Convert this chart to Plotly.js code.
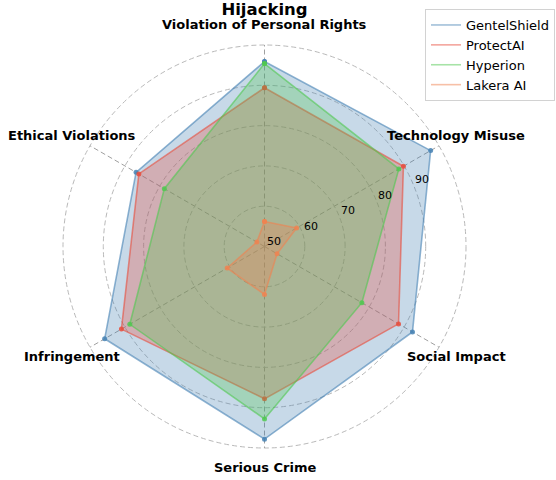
<!DOCTYPE html>
<html>
<head>
<meta charset="utf-8">
<script src="https://cdn.plot.ly/plotly-3.0.1.min.js"></script>
<style>html,body{margin:0;padding:0;background:#fff;}#chart{width:556px;height:480px;}</style>
</head>
<body>
<div id="chart"></div>
<script>
const categories = ["Violation of Personal Rights", "Technology Misuse", "Social Impact", "Serious Crime", "Infringement", "Ethical Violations"];
const seriesNames = ["GentelShield", "ProtectAI", "Hyperion", "Lakera AI"];
const gentelShield = [95.9, 97.6, 92.4, 97.8, 95.8, 86.8];
const protectAI = [89.4, 89.8, 88.4, 87.8, 91.0, 86.0];
const hyperion = [95.4, 88.5, 77.9, 92.8, 88.6, 78.7];
const lakeraAI = [56.2, 59.2, 53.6, 61.9, 60.7, 52.2];
const radialTicks = [50, 60, 70, 80, 90, 100];
const radialTickLabels = ["50", "60", "70", "80", "90"];

const seriesValues = [gentelShield, protectAI, hyperion, lakeraAI];
const baseColors = [[70,130,180],[231,76,60],[80,200,80],[240,130,80]];
const rgba = (c, a) => `rgba(${c[0]},${c[1]},${c[2]},${a})`;
const FONT = "DejaVu Sans";
const W = 556, H = 480;

// polar geometry (pixels)
const cx = 264.5, cy = 246.5, R = 201.5;
const rMin = 50, rMax = 100;

const closedTheta = categories.concat([categories[0]]);
const traces = [];
seriesValues.forEach((vals, i) => {
  const c = baseColors[i];
  traces.push({
    type: "scatterpolar",
    r: vals.concat([vals[0]]),
    theta: closedTheta,
    mode: "lines+markers",
    fill: "toself",
    fillcolor: rgba(c, 0.3),
    line: {color: rgba(c, 0.6), width: 1.6},
    marker: {color: rgba(c, 0.85), size: 5},
    name: seriesNames[i],
    showlegend: false,
    hoverinfo: "skip"
  });
});
seriesValues.forEach((vals, i) => {
  const c = baseColors[i];
  traces.push({
    type: "scatterpolar",
    r: [null],
    theta: [categories[0]],
    mode: "lines",
    line: {color: rgba(c, 0.5), width: 1.6},
    name: seriesNames[i],
    showlegend: true
  });
});

const labelPos = [
  [264.5, 24.5], [456, 135.5], [456.5, 356.7], [264.5, 467.3], [71.6, 356.7], [72, 135.7]
];
const annotations = categories.map((cat, i) => ({
  text: cat,
  xref: "paper", yref: "paper",
  x: labelPos[i][0] / W, y: 1 - labelPos[i][1] / H,
  xanchor: "center", yanchor: "middle",
  showarrow: false,
  font: {family: FONT, size: 13, color: "#000", weight: "bold"}
}));

// radial tick labels placed along the 22.5 degree direction
const tickAng = 22.5 * Math.PI / 180;
radialTickLabels.forEach((lbl) => {
  const v = parseFloat(lbl);
  const rp = (v - rMin) / (rMax - rMin) * R;
  const px = cx + rp * Math.cos(tickAng);
  const py = cy - rp * Math.sin(tickAng) - 5;
  annotations.push({
    text: lbl,
    xref: "paper", yref: "paper",
    x: px / W, y: 1 - py / H,
    xanchor: "left", yanchor: "middle",
    showarrow: false,
    font: {family: FONT, size: 11, color: "#000"}
  });
});

const layout = {
  width: W, height: H,
  margin: {l: 0, r: 0, t: 0, b: 0},
  paper_bgcolor: "#fff",
  font: {family: FONT, color: "#000"},
  title: {
    text: "Hijacking",
    x: cx / W, xanchor: "center",
    y: 1 - 9 / H, yanchor: "middle",
    font: {family: FONT, size: 16.5, weight: "bold", color: "#000"}
  },
  polar: {
    domain: {x: [(cx - R) / W, (cx + R) / W], y: [1 - (cy + R) / H, 1 - (cy - R) / H]},
    bgcolor: "rgba(0,0,0,0)",
    radialaxis: {
      range: [rMin, rMax],
      tickvals: radialTicks,
      showticklabels: false,
      angle: 22.5,
      showline: false,
      ticks: "",
      gridcolor: "rgb(185,185,185)",
      griddash: "5px,3px",
      gridwidth: 1
    },
    angularaxis: {
      type: "category",
      categoryarray: categories,
      rotation: 90,
      direction: "clockwise",
      showticklabels: false,
      ticks: "",
      showline: false,
      gridcolor: "rgb(160,160,160)",
      griddash: "5px,3px",
      gridwidth: 1
    }
  },
  shapes: [{
    type: "circle",
    xref: "paper", yref: "paper",
    x0: (cx - R) / W, x1: (cx + R) / W,
    y0: 1 - (cy + R) / H, y1: 1 - (cy - R) / H,
    line: {color: "rgb(185,185,185)", width: 1, dash: "5px,3px"},
    fillcolor: "rgba(0,0,0,0)",
    layer: "below"
  }],
  showlegend: true,
  legend: {
    x: 555 / W, xanchor: "right",
    y: 1 - 9 / H, yanchor: "top",
    bgcolor: "rgba(255,255,255,0.85)",
    bordercolor: "rgb(210,210,210)",
    borderwidth: 1,
    font: {family: FONT, size: 13, color: "#000"}
  },
  annotations: annotations
};

Plotly.newPlot("chart", traces, layout, {displayModeBar: false, staticPlot: true});
</script>
</body>
</html>
